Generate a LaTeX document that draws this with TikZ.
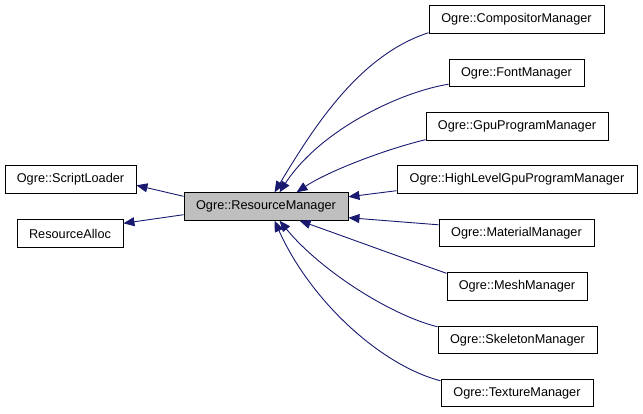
\documentclass[tikz,border=0pt]{standalone}
\usepackage{fontspec}
\setmainfont{Liberation Sans}
\usetikzlibrary{arrows.meta,calc}
\definecolor{edgeblue}{HTML}{191970}
\definecolor{rmgray}{HTML}{BFBFBF}
\begin{document}
\begin{tikzpicture}[x=1pt,y=-1pt,
  cls/.style={draw=black,line width=0.9pt,fill=white,rectangle,inner sep=0pt,minimum height=27.5pt,font=\fontsize{12.7}{14}\selectfont},
  inh/.style={draw=edgeblue,line width=0.9pt,-{Triangle[length=11pt,width=9pt,fill=edgeblue]}}]
\useasboundingbox (0,0) rectangle (643,413);
\node[cls,fill=rmgray,minimum width=164pt] (rm) at (266,206.5) {Ogre::ResourceManager};
\node[cls,minimum width=131pt] (script) at (70.5,179.5) {Ogre::ScriptLoader};
\node[cls,minimum width=106pt] (alloc) at (70,233.5) {ResourceAlloc};
\node[cls,minimum width=175pt] (comp) at (516.5,19.5) {Ogre::CompositorManager};
\node[cls,minimum width=135pt] (font) at (516.5,73) {Ogre::FontManager};
\node[cls,minimum width=182pt] (gpu) at (517,126.5) {Ogre::GpuProgramManager};
\node[cls,minimum width=240pt] (high) at (517,179.5) {Ogre::HighLevelGpuProgramManager};
\node[cls,minimum width=155pt] (mat) at (516.5,233) {Ogre::MaterialManager};
\node[cls,minimum width=140pt] (mesh) at (517,286.5) {Ogre::MeshManager};
\node[cls,minimum width=159pt] (skel) at (517.5,340) {Ogre::SkeletonManager};
\node[cls,minimum width=152pt] (tex) at (517,393) {Ogre::TextureManager};
% inheritance to ResourceManager
\draw[inh] ($(comp.south west)+(0,-1)$) .. controls (360,55) and (315,125) .. ($(rm.north west)+(91,0)$);
\draw[inh] ($(font.south west)+(0,-3)$) .. controls (400,92) and (320,130) .. ($(rm.north west)+(96,0)$);
\draw[inh] ($(gpu.south west)+(0,-1)$) .. controls (390,148) and (330,170) .. ($(rm.north west)+(113,0)$);
\draw[inh] ($(high.south west)+(0,-3)$) -- ($(rm.north east)+(0,4.5)$);
\draw[inh] ($(mat.north west)+(0,6)$) -- ($(rm.south east)+(0,-3)$);
\draw[inh] ($(mesh.north west)+(0,1)$) .. controls (400,257) and (340,235) .. ($(rm.south west)+(116,0)$);
\draw[inh] ($(skel.north west)+(0,1)$) .. controls (390,315) and (320,270) .. ($(rm.south west)+(96,0)$);
\draw[inh] ($(tex.north west)+(0,2)$) .. controls (380,365) and (310,300) .. ($(rm.south west)+(91,0)$);
% ResourceManager to bases
\draw[inh] ($(rm.north west)+(0,4)$) -- ($(script.north east)+(0,20)$);
\draw[inh] ($(rm.south west)+(0,-6)$) -- ($(alloc.north east)+(0,4)$);
\end{tikzpicture}
\end{document}
